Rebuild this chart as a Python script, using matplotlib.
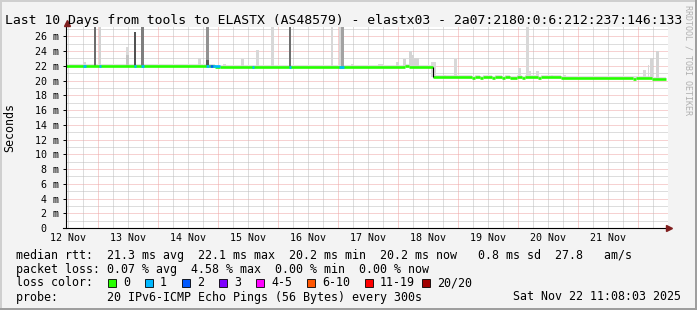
import numpy as np
import matplotlib.pyplot as plt
from matplotlib.lines import Line2D
from matplotlib.patches import Rectangle

W, H = 697, 310
plt.rcParams['font.family'] = 'DejaVu Sans Mono'

# time axis: hours since graph start (Wed Nov 12 11:08:03), 10 days
span_h = 240
first_noon = 0.867      # 12 Nov 12:00
first_midnight = 12.867  # 13 Nov 00:00
day_labels = ['12 Nov', '13 Nov', '14 Nov', '15 Nov', '16 Nov',
              '17 Nov', '18 Nov', '19 Nov', '20 Nov', '21 Nov']

# median rtt (ms), piecewise constant from each breakpoint
med_t = [0, 57.6, 59.6, 61.6, 135.6, 137.2, 146.7, 162.4, 163.6, 165.6, 166.8,
         170.4, 171.6, 174.4, 175.6, 177.6, 180.4, 182.4, 183.6, 188.8, 190.0,
         198.0, 226.8, 228.0, 234.3]
med_v = [22.0, 21.95, 21.85, 21.8, 21.95, 21.85, 20.42, 20.32, 20.42, 20.32, 20.42,
         20.32, 20.42, 20.32, 20.42, 20.34, 20.42, 20.32, 20.42, 20.34, 20.42,
         20.35, 20.27, 20.35, 20.15]

# packet loss intervals (hours) and lost pings
loss_start = [6.8, 13.2, 27.2, 30.0, 56.0, 57.6, 58.8, 74.4, 89.2, 109.2]
loss_end = [8.0, 14.0, 28.0, 31.2, 57.2, 58.8, 61.6, 75.2, 90.0, 111.2]
loss_count = [1, 1, 1, 1, 1, 2, 1, 1, 1, 1]

# smoke spikes: start/end hour, top (ms), grey shade
spk_start = [6.8, 11.2, 13.2, 24.0, 24.0, 27.2, 30.0, 52.8, 55.9, 55.9, 62.8,
             70.0, 75.9, 82.0, 89.0, 105.9, 109.2, 110.0, 114.0, 124.8, 132.0,
             134.8, 137.2, 138.3, 139.2, 146.0, 150.7, 155.2, 180.8, 183.9,
             184.8, 188.0, 193.9, 198.8, 230.8, 232.7, 233.6, 235.9]
spk_end = [8.0, 12.0, 14.0, 25.2, 25.2, 28.0, 31.2, 53.9, 57.2, 57.2, 63.9,
           71.1, 77.2, 83.2, 90.0, 106.9, 110.0, 111.2, 115.2, 126.8, 133.2,
           135.9, 138.3, 139.3, 141.2, 147.9, 152.0, 156.3, 182.0, 185.2,
           186.0, 189.2, 194.9, 200.0, 232.0, 233.3, 234.9, 237.1]
spk_top = [22.5, 27.5, 27.5, 24.5, 23.5, 26.6, 27.5, 23.1, 27.5, 22.8, 22.2,
           22.9, 24.2, 27.5, 27.5, 27.5, 27.5, 27.5, 22.3, 22.2, 22.5,
           22.9, 24.0, 23.5, 23.1, 22.5, 20.8, 22.9, 21.7, 27.5,
           21.3, 21.3, 20.8, 20.8, 21.4, 22.1, 23.1, 24.0]
spk_shade = ['#d8d8d8', '#6c6c6c', '#d2d2d2', '#dadada', '#c4c4c4', '#525252',
             '#7e7e7e', '#d8d8d8', '#929292', '#5a5a5a', '#dadada',
             '#d8d8d8', '#d8d8d8', '#d8d8d8', '#6e6e6e', '#d8d8d8', '#d8d8d8',
             '#a2a2a2', '#dadada', '#dadada', '#d8d8d8',
             '#d4d4d4', '#d4d4d4', '#d4d4d4', '#d4d4d4', '#dadada', '#dadada',
             '#d8d8d8', '#dadada', '#d8d8d8', '#dadada', '#dadada', '#dadada',
             '#dadada', '#dadada', '#d8d8d8', '#d4d4d4', '#d4d4d4']

loss_labels = ['0', '1', '2', '3', '4-5', '6-10', '11-19', '20/20']
loss_colors = ['#26ff00', '#00b8ff', '#0059ff', '#7e00ff', '#ff00ff',
               '#ff5500', '#ff0000', '#a10000']

yticks = list(range(0, 27, 2))
ytick_labels = ['0  '] + ['%d m' % v for v in yticks[1:]]


def fx(x):
    return x / W


def fy(y):
    return 1 - y / H


def med_at(t):
    i = np.searchsorted(med_t, t, side='right') - 1
    return med_v[i]


fig = plt.figure(figsize=(W / 100, H / 100), dpi=100, facecolor='#f3f3f3')
ax = fig.add_axes([fx(66), fy(228), 602 / W, (228 - 27) / H])
ax.set_facecolor('white')
ax.set_xlim(0, span_h * 602 / 600)
ax.set_ylim(0, 27.27)
for s in ax.spines.values():
    s.set_visible(False)

# grid
for m in range(1, 28):
    col = '#eea4a4' if m % 2 == 0 else '#bdbdbd'
    ax.axhline(m, color=col, lw=0.72, ls=(0, (1, 1)), zorder=0)
t = first_noon
while t < span_h:
    major = abs(((t - first_midnight) % 24)) < 0.01
    ax.axvline(t, color='#eea4a4' if major else '#bdbdbd', lw=0.72,
               ls=(0, (1, 1)), zorder=0)
    t += 6

# smoke: thin band above median, then spikes
edges = med_t + [span_h]
for i in range(len(med_t)):
    ax.fill_between([edges[i], edges[i + 1]], med_v[i] - 0.1, med_v[i] + 0.3,
                    color='#e2e2e2', lw=0, zorder=1)
for a, b, top, c in zip(spk_start, spk_end, spk_top, spk_shade):
    base = med_at((a + b) / 2)
    ax.bar(a, top - base, width=b - a, bottom=base, align='edge', color=c,
           lw=0, zorder=2)

# median line coloured by loss
ax.hlines(med_v, med_t, edges[1:], color=loss_colors[0], lw=1.9, zorder=3)
ax.vlines(146.7, 20.42, 21.85, color='black', lw=0.8, zorder=4)
for a, b, n in zip(loss_start, loss_end, loss_count):
    ax.hlines(med_at(a), a, b, color=loss_colors[n], lw=1.9, zorder=4)

# ticks
ax.set_yticks(yticks, ytick_labels)
ax.set_xticks([first_noon + 24 * k for k in range(len(day_labels))], day_labels)
ax.tick_params(axis='y', length=2.2, width=0.7, pad=2.5, labelsize=7.2)
ax.tick_params(axis='x', length=0, pad=3.6, labelsize=7.2)

# axes with arrows
fig.add_artist(Line2D([fx(66), fx(66)], [fy(228), fy(23)], color='black', lw=0.8))
fig.add_artist(Line2D([fx(63), fx(668)], [fy(228), fy(228)], color='black', lw=0.8))
fig.add_artist(Line2D([fx(66.5)], [fy(23)], marker='^', ms=4, color='#801e1e', lw=0))
fig.add_artist(Line2D([fx(669)], [fy(228)], marker='>', ms=4, color='#801e1e', lw=0))

# border shading
fig.add_artist(Rectangle((0, fy(2)), 1, 2 / H, transform=fig.transFigure,
                         color='#cfcfcf', lw=0))
fig.add_artist(Rectangle((0, 0), 2 / W, 1, transform=fig.transFigure,
                         color='#cfcfcf', lw=0))
fig.add_artist(Rectangle((0, 0), 1, 2 / H, transform=fig.transFigure,
                         color='#9e9e9e', lw=0))
fig.add_artist(Rectangle((1 - 2 / W, 0), 2 / W, 1, transform=fig.transFigure,
                         color='#9e9e9e', lw=0))

# texts
fig.text(fx(343.5), fy(24), 'Last 10 Days from tools to ELASTX (AS48579) - elastx03 - '
         '2a07:2180:0:6:212:237:146:133', ha='center', va='baseline', fontsize=9.45)
fig.text(fx(10), fy(127), 'Seconds', rotation=90, ha='center', va='center', fontsize=8.4)
fig.text(fx(688), fy(5), 'RRDTOOL / TOBI OETIKER', rotation=270, ha='center',
         va='top', fontsize=6.0, color='#b0b0b0')

lx = fx(16)
fs = 8.4
fig.text(lx, fy(258.5), 'median rtt:  21.3 ms avg  22.1 ms max  20.2 ms min  '
         '20.2 ms now   0.8 ms sd  27.8   am/s', fontsize=fs, va='baseline')
fig.text(lx, fy(272.5), 'packet loss: 0.07 % avg  4.58 % max  0.00 % min  '
         '0.00 % now', fontsize=fs, va='baseline')
fig.text(lx, fy(286.5), 'loss color:', fontsize=fs, va='baseline')
sw_x = [108, 145, 182, 219, 256, 307, 365, 422]
for x, lab, c in zip(sw_x, loss_labels, loss_colors):
    fig.add_artist(Rectangle((fx(x), fy(286.5)), 8 / W, 8 / H,
                             transform=fig.transFigure, facecolor=c,
                             edgecolor='black', lw=0.6))
    fig.text(fx(x + 15), fy(286.5), lab, fontsize=fs, va='baseline')
fig.text(lx, fy(300.5), 'probe:       20 IPv6-ICMP Echo Pings (56 Bytes) every 300s',
         fontsize=fs, va='baseline')
fig.text(fx(681), fy(300.5), 'Sat Nov 22 11:08:03 2025', fontsize=fs,
         va='baseline', ha='right')

fig.savefig('out.png', dpi=100, facecolor=fig.get_facecolor())
